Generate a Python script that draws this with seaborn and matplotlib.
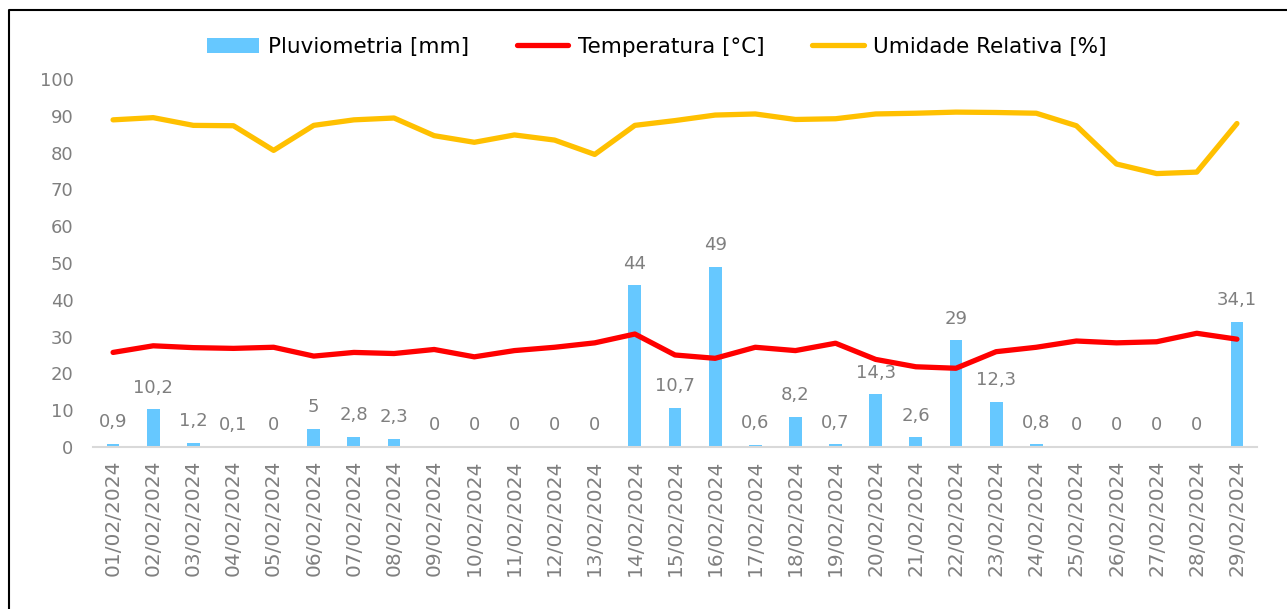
import pandas as pd
import matplotlib.pyplot as plt
import numpy as np
import seaborn as sns
from matplotlib.patches import Patch
from matplotlib.lines import Line2D

# dados diarios - fevereiro 2024
dias = ['%02d/02/2024' % d for d in range(1, 30)]
chuva = [0.9, 10.2, 1.2, 0.1, 0, 5, 2.8, 2.3, 0, 0, 0, 0, 0, 44, 10.7, 49,
         0.6, 8.2, 0.7, 14.3, 2.6, 29, 12.3, 0.8, 0, 0, 0, 0, 34.1]
temperatura = [25.7, 27.5, 27.0, 26.8, 27.1, 24.7, 25.7, 25.4, 26.5, 24.5,
               26.2, 27.1, 28.3, 30.7, 25.0, 24.1, 27.1, 26.2, 28.2, 23.8,
               21.8, 21.4, 25.9, 27.1, 28.8, 28.3, 28.6, 30.9, 29.3]
umidade = [88.9, 89.5, 87.4, 87.3, 80.6, 87.4, 88.9, 89.4, 84.6, 82.8,
           84.8, 83.4, 79.5, 87.4, 88.7, 90.2, 90.5, 89.0, 89.2, 90.5,
           90.7, 91.0, 90.9, 90.7, 87.3, 76.9, 74.3, 74.7, 87.9]

df = pd.DataFrame({'dia': dias, 'pos': np.arange(len(dias)), 'chuva': chuva,
                   'temp': temperatura, 'umid': umidade})

cor_chuva = '#66C8FF'
cor_temp = '#FF0000'
cor_umid = '#FFC000'
cinza = '#7F7F7F'

sns.set_style('white')
plt.rcParams['font.family'] = ['DejaVu Sans']

fig = plt.figure(figsize=(12.87, 6.09), dpi=100)
ax = fig.add_axes([93 / 1287, 1 - 447 / 609, (1257 - 93) / 1287, (447 - 79) / 609])

sns.barplot(data=df, x='dia', y='chuva', color=cor_chuva, width=0.32,
            saturation=1, linewidth=0, ax=ax, zorder=2)
sns.lineplot(data=df, x='pos', y='temp', color=cor_temp, lw=3.8, ax=ax,
             zorder=3, solid_capstyle='round')
sns.lineplot(data=df, x='pos', y='umid', color=cor_umid, lw=3.8, ax=ax,
             zorder=3, solid_capstyle='round')

for i, v in enumerate(chuva):
    txt = ('%g' % v).replace('.', ',')
    ax.annotate(txt, (i, v), xytext=(0, 9), textcoords='offset points',
                ha='center', va='bottom', fontsize=13, color=cinza)

ax.set_xlim(-0.5, len(dias) - 0.5)
ax.set_ylim(0, 100)
ax.set_yticks(range(0, 101, 10))
ax.set(xlabel='', ylabel='')
ax.tick_params(axis='y', length=0, pad=14, labelsize=13, labelcolor=cinza)
ax.tick_params(axis='x', length=0, pad=9, labelsize=14.5, labelcolor=cinza,
               rotation=90)
for s in ['top', 'right', 'left']:
    ax.spines[s].set_visible(False)
ax.spines['bottom'].set_color('#D9D9D9')
ax.spines['bottom'].set_linewidth(1.5)

handles = [Patch(facecolor=cor_chuva, edgecolor='none'),
           Line2D([], [], color=cor_temp, lw=3.8, solid_capstyle='round'),
           Line2D([], [], color=cor_umid, lw=3.8, solid_capstyle='round')]
labels = ['Pluviometria [mm]', 'Temperatura [°C]', 'Umidade Relativa [%]']
fig.legend(handles, labels, loc='center', bbox_to_anchor=(657 / 1287, 1 - 47 / 609),
           ncol=3, frameon=False, fontsize=15.5, labelcolor='black',
           handlelength=2.4, handletextpad=0.45, columnspacing=2.2)

# moldura do grafico (so esquerda e topo aparecem no recorte)
fig.add_artist(Line2D([9 / 1287, 9 / 1287, 1.0], [0, 1 - 10 / 609, 1 - 10 / 609],
                      transform=fig.transFigure, color='black', lw=1.5))

fig.savefig('out.png', dpi=100)
